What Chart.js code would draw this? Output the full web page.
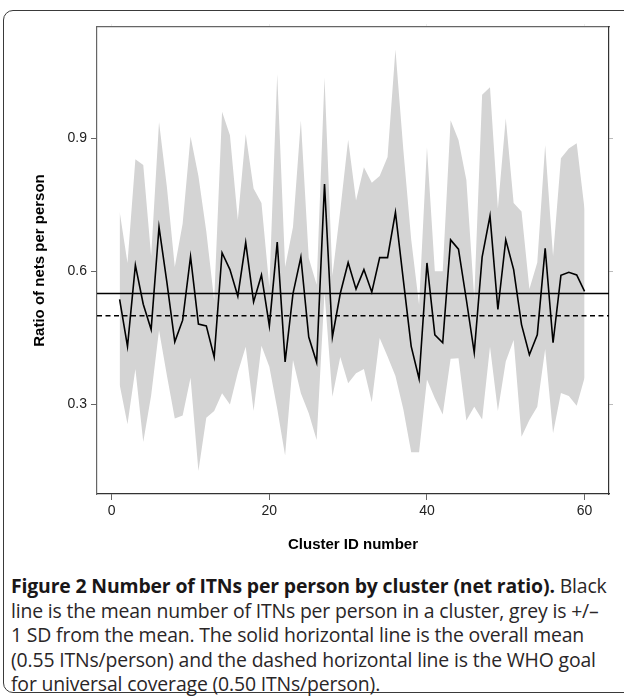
<!DOCTYPE html>
<html>
<head>
<meta charset="utf-8">
<script src="https://cdn.jsdelivr.net/npm/chart.js@4.4.1/dist/chart.umd.min.js"></script>
<style>
  body { margin: 0; background: #fff; width: 624px; height: 696px; overflow: hidden; position: relative; }
  #frame { position: absolute; left: 3px; top: 10px; width: 640px; height: 681px; border: 1.5px solid #3a3a3a; border-radius: 10px; }
  #wrap { position: absolute; left: 0; top: 0; }
  #caption { position: absolute; left: 11px; top: 574px; font-family: "Open Sans", "Noto Sans", sans-serif; font-size: 19.4px; line-height: 24.5px; color: #2a2627; white-space: nowrap; letter-spacing: -0.15px; }
  #caption b { font-weight: 700; color: #1a1718; }
</style>
</head>
<body>
<div id="frame"></div>
<div id="wrap"><canvas id="grafico" width="624" height="565"></canvas></div>
<div id="caption">
<b>Figure 2 Number of ITNs per person by cluster (net ratio).</b> Black<br>
line is the mean number of ITNs per person in a cluster, grey is +/–<br>
1 SD from the mean. The solid horizontal line is the overall mean<br>
(0.55 ITNs/person) and the dashed horizontal line is the WHO goal<br>
for universal coverage (0.50 ITNs/person).
</div>
<script>
// cluster ids 1..60
const clusters = [
    1, 2, 3, 4, 5, 6, 7, 8, 9, 10,
    11, 12, 13, 14, 15, 16, 17, 18, 19, 20,
    21, 22, 23, 24, 25, 26, 27, 28, 29, 30,
    31, 32, 33, 34, 35, 36, 37, 38, 39, 40,
    41, 42, 43, 44, 45, 46, 47, 48, 49, 50,
    51, 52, 53, 54, 55, 56, 57, 58, 59, 60
];

// mean ITNs per person in each cluster
const ratioMedio = [
    0.537, 0.431, 0.614, 0.526, 0.469, 0.700, 0.575, 0.441, 0.490, 0.633,
    0.481, 0.477, 0.407, 0.642, 0.604, 0.544, 0.665, 0.531, 0.592, 0.477,
    0.666, 0.396, 0.550, 0.632, 0.452, 0.395, 0.797, 0.452, 0.550, 0.620,
    0.560, 0.604, 0.553, 0.631, 0.631, 0.733, 0.581, 0.431, 0.358, 0.619,
    0.457, 0.439, 0.671, 0.650, 0.536, 0.417, 0.632, 0.725, 0.514, 0.671,
    0.604, 0.480, 0.412, 0.457, 0.652, 0.439, 0.591, 0.598, 0.592, 0.555
];

// mean + 1 SD
const ratioSuperior = [
    0.735, 0.619, 0.853, 0.840, 0.634, 0.937, 0.790, 0.610, 0.708, 0.904,
    0.815, 0.690, 0.535, 0.960, 0.907, 0.716, 0.910, 0.787, 0.754, 0.565,
    1.045, 0.610, 0.700, 0.940, 0.630, 0.570, 1.037, 0.590, 0.738, 0.897,
    0.760, 0.835, 0.800, 0.815, 0.858, 1.100, 0.875, 0.672, 0.525, 0.880,
    0.600, 0.600, 0.941, 0.896, 0.806, 0.540, 0.998, 1.015, 0.742, 0.945,
    0.754, 0.735, 0.560, 0.620, 0.885, 0.634, 0.855, 0.877, 0.889, 0.740
];

// mean - 1 SD
const ratioInferior = [
    0.345, 0.255, 0.380, 0.215, 0.320, 0.467, 0.365, 0.268, 0.275, 0.360,
    0.150, 0.270, 0.285, 0.325, 0.300, 0.372, 0.430, 0.285, 0.432, 0.385,
    0.290, 0.185, 0.400, 0.325, 0.280, 0.220, 0.553, 0.317, 0.407, 0.348,
    0.370, 0.380, 0.305, 0.450, 0.408, 0.364, 0.289, 0.192, 0.192, 0.356,
    0.314, 0.277, 0.403, 0.404, 0.264, 0.295, 0.266, 0.430, 0.285, 0.397,
    0.445, 0.227, 0.265, 0.295, 0.425, 0.235, 0.326, 0.319, 0.297, 0.360
];

const mediaGeneral = 0.55;   // overall mean
const metaOMS = 0.50;        // WHO universal coverage goal

const ticksX = [0, 20, 40, 60];
const ticksY = [0.3, 0.6, 0.9];

const fuente = "'Liberation Sans', Arial, sans-serif";

function puntos(valores) {
    return clusters.map((c, i) => ({ x: c, y: valores[i] }));
}

// horizontal reference lines drawn through the y scale
const lineasReferencia = {
    id: 'lineasReferencia',
    afterDatasetsDraw(chart) {
        const { ctx, chartArea, scales } = chart;
        const dibujar = (valor, dash, ancho) => {
            const y = scales.y.getPixelForValue(valor);
            ctx.save();
            ctx.strokeStyle = '#000';
            ctx.lineWidth = ancho;
            ctx.setLineDash(dash);
            ctx.beginPath();
            ctx.moveTo(chartArea.left, y);
            ctx.lineTo(chartArea.right, y);
            ctx.stroke();
            ctx.restore();
        };
        dibujar(mediaGeneral, [], 1.4);
        dibujar(metaOMS, [5, 3.5], 1.4);
    }
};

const ctx = document.getElementById("grafico");

new Chart(ctx, {
    type: 'line',
    data: {
        datasets: [
            {
                data: puntos(ratioSuperior),
                borderWidth: 0,
                pointRadius: 0,
                backgroundColor: '#d4d4d4',
                fill: '+1',
                order: 2
            },
            {
                data: puntos(ratioInferior),
                borderWidth: 0,
                pointRadius: 0,
                fill: false,
                order: 3
            },
            {
                data: puntos(ratioMedio),
                borderColor: '#000',
                borderWidth: 1.6,
                pointRadius: 0,
                fill: false,
                tension: 0,
                order: 0
            }
        ]
    },
    options: {
        responsive: false,
        animation: false,
        layout: { padding: 0 },
        plugins: {
            legend: { display: false },
            tooltip: { enabled: false }
        },
        scales: {
            x: {
                type: 'linear',
                position: 'bottom',
                min: -1.87,
                max: 63.1,
                afterBuildTicks: axis => { axis.ticks = ticksX.map(v => ({ value: v })); },
                afterFit: scale => { scale.height = 71; },
                grid: { drawOnChartArea: false, tickLength: 6, color: '#666' },
                border: { color: '#333', width: 1.2 },
                ticks: { font: { family: fuente, size: 14 }, color: '#222', padding: 3 },
                title: {
                    display: true,
                    text: 'Cluster ID number',
                    font: { family: fuente, size: 15, weight: 'bold' },
                    color: '#000',
                    padding: { top: 0, bottom: 11 }
                }
            },
            x2: {
                type: 'linear',
                position: 'top',
                min: -1.87,
                max: 63.1,
                afterBuildTicks: axis => { axis.ticks = ticksX.map(v => ({ value: v })); },
                afterFit: scale => { scale.height = 27; },
                grid: { drawOnChartArea: false, tickLength: 3, color: '#eee' },
                border: { color: '#666', width: 1.2 },
                ticks: { display: false }
            },
            y: {
                min: 0.098,
                max: 1.151,
                afterBuildTicks: axis => { axis.ticks = ticksY.map(v => ({ value: v })); },
                afterFit: scale => { scale.width = 97; },
                grid: { drawOnChartArea: false, tickLength: 6, color: '#666' },
                border: { color: '#666', width: 1.2 },
                ticks: {
                    font: { family: fuente, size: 14 },
                    color: '#222',
                    padding: 4,
                    callback: v => v.toFixed(1)
                },
                title: {
                    display: true,
                    text: 'Ratio of nets per person',
                    font: { family: fuente, size: 15, weight: 'bold' },
                    color: '#000',
                    padding: { top: 31, bottom: 0 }
                }
            },
            y2: {
                position: 'right',
                min: 0.098,
                max: 1.151,
                afterBuildTicks: axis => { axis.ticks = ticksY.map(v => ({ value: v })); },
                afterFit: scale => { scale.width = 15; },
                grid: { drawOnChartArea: false, tickLength: 4, color: '#bbb' },
                border: { color: '#333', width: 1.2 },
                ticks: { display: false }
            }
        }
    },
    plugins: [lineasReferencia]
});
</script>
</body>
</html>
